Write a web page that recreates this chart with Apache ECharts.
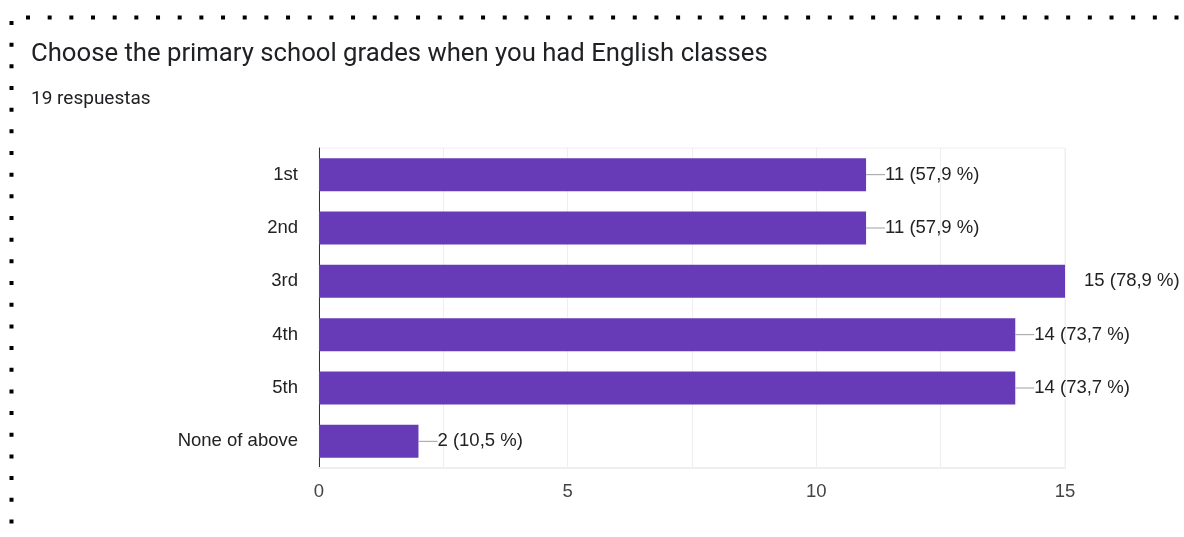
<!DOCTYPE html>
<html>
<head>
<meta charset="utf-8">
<script src="https://cdn.jsdelivr.net/npm/echarts@6/dist/echarts.min.js"></script>
<style>
  html, body { margin: 0; padding: 0; background: #fff; }
  #chart { width: 1184px; height: 537px; }
</style>
</head>
<body>
<div id="chart"></div>
<script>
// Survey: primary school grades with English classes
const titleText = 'Choose the primary school grades when you had English classes';
const responsesText = '19 respuestas';
const totalResponses = 19;
const grades = ['1st', '2nd', '3rd', '4th', '5th', 'None of above'];
const counts = [11, 11, 15, 14, 14, 2];
const xTicks = [0, 5, 10, 15];

const chart = echarts.init(document.getElementById('chart'));

function pctLabel(v) {
  return v + ' (' + (v / totalResponses * 100).toFixed(1).replace('.', ',') + ' %)';
}

const barData = counts.map(function (v) {
  const atMax = v >= 15;
  return {
    value: v,
    label: {
      rich: {
        lead: { width: 19, height: 1, backgroundColor: atMax ? 'transparent' : '#9e9e9e' }
      }
    }
  };
});

chart.setOption({
  animation: false,
  textStyle: { fontFamily: 'Liberation Sans, Arial, sans-serif' },
  title: [
    {
      text: titleText,
      left: 26, top: 37,
      textStyle: { fontFamily: 'Roboto, sans-serif', fontSize: 25.7, fontWeight: 'normal', color: '#202124' }
    },
    {
      text: responsesText,
      left: 26, top: 85,
      textStyle: { fontFamily: 'Roboto, sans-serif', fontSize: 19, fontWeight: 'normal', color: '#202124' }
    }
  ],
  graphic: [
    {
      type: 'polyline',
      shape: { points: [[26, 17.5], [1200, 17.5]] },
      style: { stroke: '#000', lineWidth: 4, lineDash: [4, 17.67], fill: null }
    },
    {
      type: 'polyline',
      shape: { points: [[11.5, 21], [11.5, 560]] },
      style: { stroke: '#000', lineWidth: 4, lineDash: [4, 17.67], fill: null }
    }
  ],
  grid: {
    left: 319, right: 119, top: 148, bottom: 69,
    show: true, borderColor: '#eeeeee', borderWidth: 1
  },
  xAxis: {
    type: 'value',
    min: 0, max: 15, interval: 2.5,
    axisLine: { show: true, lineStyle: { color: '#eeeeee', width: 2 } },
    axisTick: { show: false },
    splitLine: { lineStyle: { color: '#eeeeee', width: 1 } },
    axisLabel: {
      margin: 14,
      fontSize: 18.5,
      color: '#444',
      formatter: function (v) { return xTicks.indexOf(v) >= 0 ? String(v) : ''; }
    }
  },
  yAxis: {
    type: 'category',
    data: grades,
    inverse: true,
    axisLine: { show: true, lineStyle: { color: '#333', width: 1 } },
    axisTick: { show: false },
    splitLine: { show: false },
    axisLabel: { margin: 21, fontSize: 18.5, color: '#222' }
  },
  series: [{
    type: 'bar',
    data: barData,
    barWidth: 33,
    itemStyle: { color: '#673ab7' },
    label: {
      show: true,
      position: 'right',
      distance: 0,
      fontSize: 18.5,
      color: '#222',
      formatter: function (p) { return '{lead|}' + pctLabel(p.value); },
      rich: {
        lead: { width: 19, height: 1, backgroundColor: '#9e9e9e' }
      }
    }
  }]
});
</script>
</body>
</html>
